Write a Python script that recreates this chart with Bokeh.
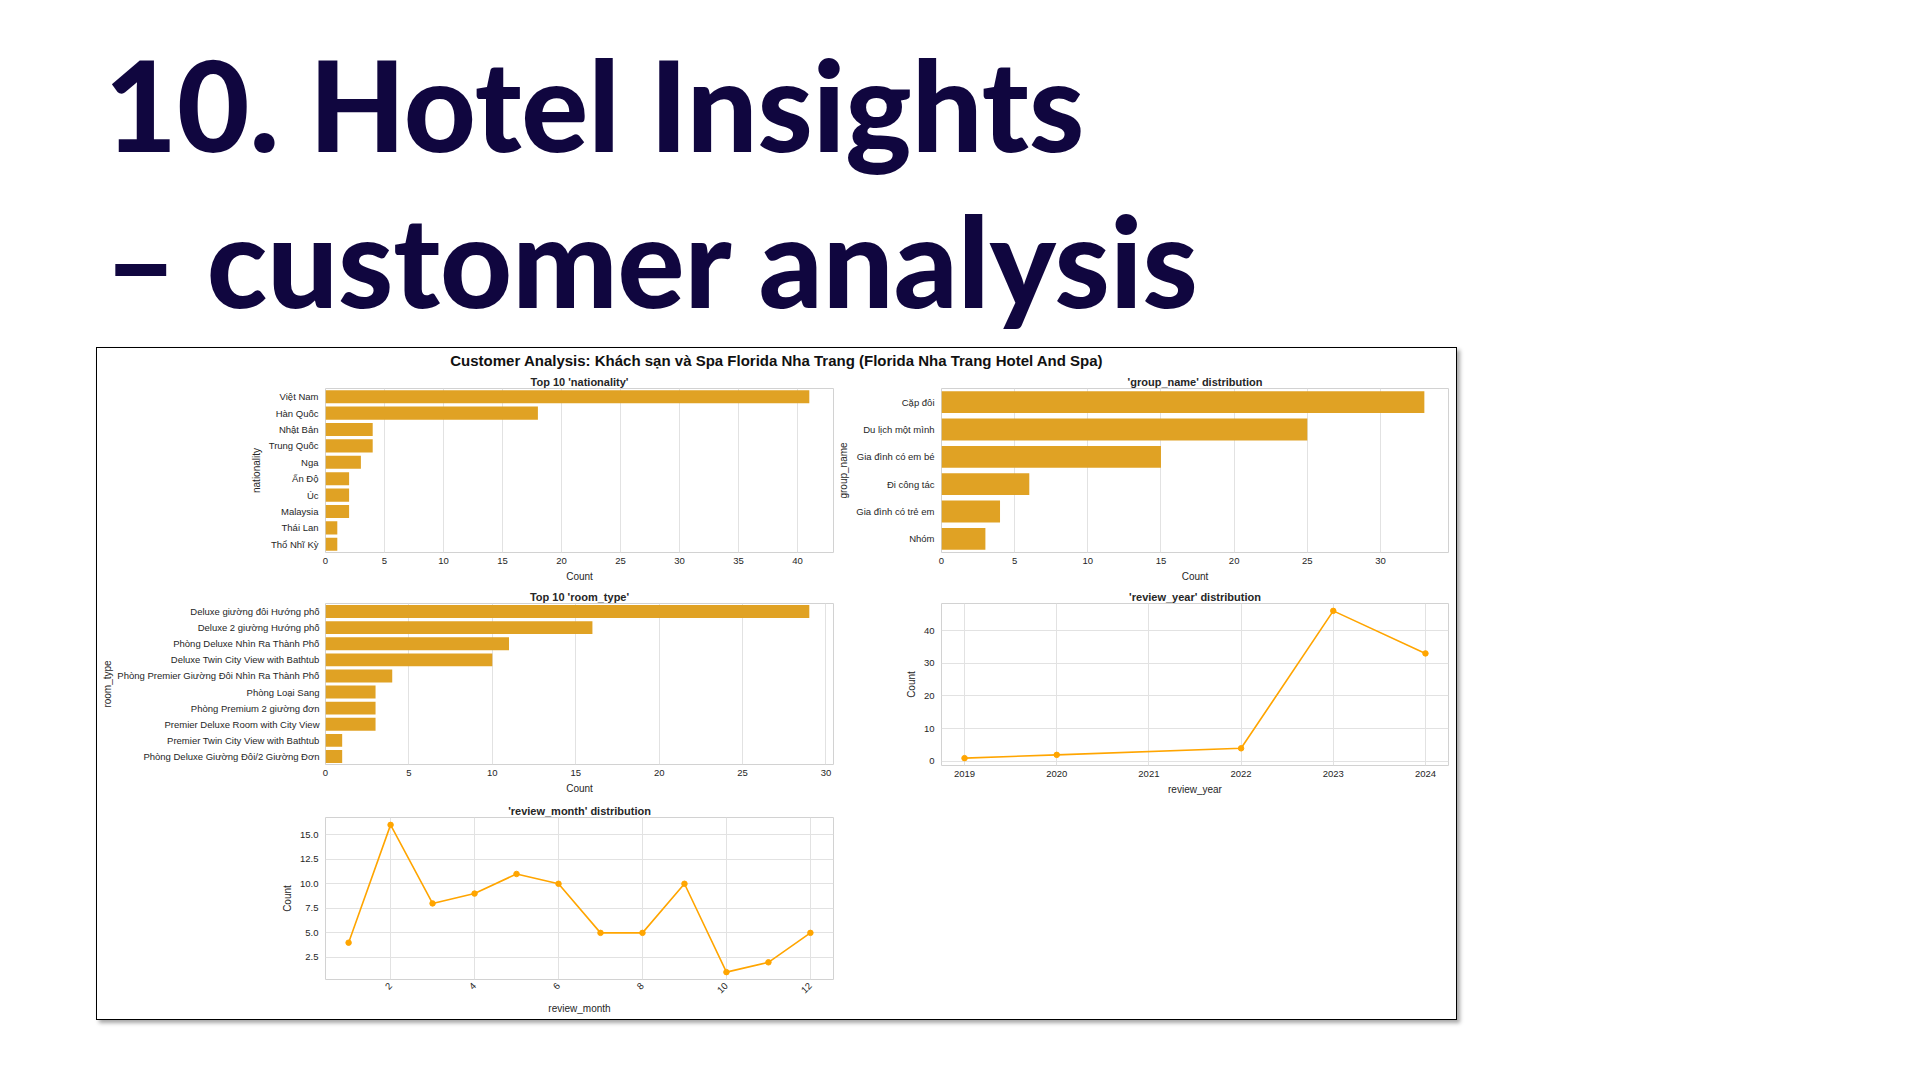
import math
from bokeh.plotting import figure
from bokeh.models import (Range1d, FactorRange, SingleIntervalTicker, FixedTicker,
                          NumeralTickFormatter, Spacer)
from bokeh.layouts import column, row
from bokeh.embed import file_html
from bokeh.resources import INLINE
from bokeh.core.properties import value

# ---------------- data ----------------
nationality = ["Việt Nam", "Hàn Quốc", "Nhật Bản", "Trung Quốc", "Nga",
               "Ấn Độ", "Úc", "Malaysia", "Thái Lan", "Thổ Nhĩ Kỳ"]
nationality_counts = [41, 18, 4, 4, 3, 2, 2, 2, 1, 1]

group_names = ["Cặp đôi", "Du lịch một mình", "Gia đình có em bé",
               "Đi công tác", "Gia đình có trẻ em", "Nhóm"]
group_counts = [33, 25, 15, 6, 4, 3]

room_types = ["Deluxe giường đôi Hướng phố", "Deluxe 2 giường Hướng phố",
              "Phòng Deluxe Nhìn Ra Thành Phố", "Deluxe Twin City View with Bathtub",
              "Phòng Premier Giường Đôi Nhìn Ra Thành Phố", "Phòng Loại Sang",
              "Phòng Premium 2 giường đơn", "Premier Deluxe Room with City View",
              "Premier Twin City View with Bathtub", "Phòng Deluxe Giường Đôi/2 Giường Đơn"]
room_counts = [29, 16, 11, 10, 4, 3, 3, 3, 1, 1]

years = [2019, 2020, 2022, 2023, 2024]
year_counts = [1, 2, 4, 46, 33]

months = [1, 2, 3, 4, 5, 6, 7, 8, 9, 10, 11, 12]
month_counts = [4, 16, 8, 9, 11, 10, 5, 5, 10, 1, 2, 5]

heading_line1 = "10. Hotel Insights"
heading_line2 = "– customer analysis"
suptitle = "Customer Analysis: Khách sạn và Spa Florida Nha Trang (Florida Nha Trang Hotel And Spa)"

# ---------------- style ----------------
FONT = "Liberation Sans"
TXT = "#262626"
BAR = "#E0A224"
LINE = "#FFA500"
GRID = "#e2e2e2"
NAVY = "#10063f"


def style(p, xlabel, ylabel, title):
    p.title.text = title
    p.title.align = "center"
    p.title.text_font = FONT
    p.title.text_font_size = "11px"
    p.title.text_font_style = "bold"
    p.title.text_color = TXT
    p.title.standoff = 1
    p.outline_line_color = "#d2d2d2"
    p.outline_line_width = 1
    for ax in (p.xaxis, p.yaxis):
        ax.axis_line_color = None
        ax.major_tick_line_color = None
        ax.minor_tick_line_color = None
        ax.major_tick_out = 0
        ax.major_tick_in = 0
        ax.minor_tick_out = 0
        ax.major_label_text_font = FONT
        ax.major_label_text_font_size = "9.5px"
        ax.major_label_text_color = TXT
        ax.axis_label_text_font = FONT
        ax.axis_label_text_font_size = "10px"
        ax.axis_label_text_font_style = "normal"
        ax.axis_label_text_color = TXT
        ax.axis_label_standoff = 4
    p.xaxis.major_label_standoff = 5
    p.yaxis.major_label_standoff = 7
    p.xaxis.axis_label = xlabel
    p.yaxis.axis_label = ylabel
    p.xgrid.grid_line_color = GRID
    p.ygrid.grid_line_color = GRID
    p.background_fill_color = "white"
    p.border_fill_color = "white"


def barh(cats, vals, ylabel, title, xmax, ticks_int, fw, fh, mbl, mbr, mbt, mbb):
    p = figure(y_range=FactorRange(factors=list(reversed(cats))),
               x_range=Range1d(0, xmax), frame_width=fw, frame_height=fh,
               min_border_left=mbl, min_border_right=mbr, min_border_top=mbt,
               min_border_bottom=mbb, output_backend="svg", toolbar_location=None)
    p.hbar(y=cats, right=vals, height=0.8, fill_color=BAR, line_color=None)
    style(p, "Count", ylabel, title)
    p.xaxis.ticker = SingleIntervalTicker(interval=ticks_int)
    p.ygrid.visible = False
    return p


LEFT_W = dict(fw=508, mbl=228, mbr=2)
RIGHT_W = dict(fw=507, mbl=106, mbr=8)

# Row A
pA1 = barh(nationality, nationality_counts, "nationality", "Top 10 'nationality'",
           max(nationality_counts) * 1.05, 5, fh=164, mbt=19, mbb=32, **LEFT_W)
pA2 = barh(group_names, group_counts, "group_name", "'group_name' distribution",
           max(group_counts) * 1.05, 5, fh=164, mbt=19, mbb=32, **RIGHT_W)

# Row B
pB1 = barh(room_types, room_counts, "room_type", "Top 10 'room_type'",
           max(room_counts) * 1.05, 5, fh=161, mbt=19, mbb=29, **LEFT_W)
pB1.yaxis.axis_label_standoff = 1
pB1.yaxis.major_label_standoff = 6

ypad = (max(year_counts) - min(year_counts)) * 0.05
pB2 = figure(x_range=Range1d(min(years) - 0.25, max(years) + 0.25),
             y_range=Range1d(min(year_counts) - ypad, max(year_counts) + ypad),
             frame_width=507, frame_height=162, min_border_left=106, min_border_right=8,
             min_border_top=18, min_border_bottom=29,
             output_backend="svg", toolbar_location=None)
pB2.line(years, year_counts, line_color=LINE, line_width=1.6)
pB2.scatter(years, year_counts, size=5.5, fill_color=LINE, line_color=LINE)
style(pB2, "review_year", "Count", "'review_year' distribution")
pB2.xaxis.ticker = SingleIntervalTicker(interval=1)
pB2.yaxis.ticker = SingleIntervalTicker(interval=10)

# Row C
mpad = (max(month_counts) - min(month_counts)) * 0.05
pC1 = figure(x_range=Range1d(min(months) - 0.55, max(months) + 0.55),
             y_range=Range1d(min(month_counts) - mpad, max(month_counts) + mpad),
             frame_width=508, frame_height=162, min_border_left=228, min_border_right=2,
             min_border_top=21, min_border_bottom=40,
             output_backend="svg", toolbar_location=None)
pC1.line(months, month_counts, line_color=LINE, line_width=1.6)
pC1.scatter(months, month_counts, size=5.5, fill_color=LINE, line_color=LINE)
style(pC1, "review_month", "Count", "'review_month' distribution")
pC1.xaxis.ticker = FixedTicker(ticks=[2, 4, 6, 8, 10, 12])
pC1.yaxis.ticker = FixedTicker(ticks=[2.5, 5.0, 7.5, 10.0, 12.5, 15.0])
pC1.yaxis.formatter = NumeralTickFormatter(format="0.0")
pC1.xaxis.major_label_orientation = math.pi / 4

# Suptitle strip
sup = figure(width=1359, height=21, x_range=Range1d(0, 1), y_range=Range1d(0, 1),
             min_border=0, output_backend="svg", toolbar_location=None)
sup.axis.visible = False
sup.grid.visible = False
sup.outline_line_color = None
sup.text(x=[0.5], y=[0.45], text=[suptitle], text_align="center",
         text_baseline="middle", text_font=value(FONT), text_font_size="15px",
         text_font_style="bold", text_color="#111111")

box = column(sup, row(pA1, pA2), row(pB1, pB2), row(pC1, Spacer(width=621, height=220)),
             spacing=0,
             styles={"border": "1.5px solid #000000",
                     "box-shadow": "3px 3px 4px rgba(0,0,0,0.35)",
                     "background-color": "white"})

# Header
head = figure(width=1920, height=347, x_range=Range1d(0, 1920), y_range=Range1d(347, 0),
              min_border=0, output_backend="svg", toolbar_location=None)
head.axis.visible = False
head.grid.visible = False
head.outline_line_color = None
head.text(x=[104, 104], y=[103, 259], text=[heading_line1, heading_line2],
          text_align="left", text_baseline="alphabetic",
          text_font=value("'Lato Black', Lato"), text_font_size="125px",
          text_font_style="bold", text_color=NAVY)

page = column(head, row(Spacer(width=96, height=10), box), spacing=0)

open("out.html", "w").write(file_html(page, INLINE))
